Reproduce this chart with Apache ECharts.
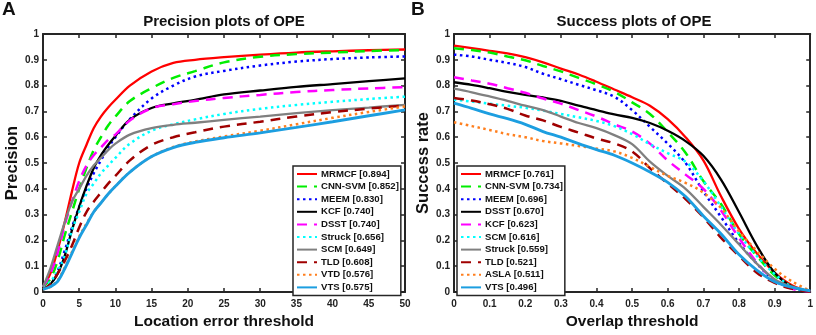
<!DOCTYPE html>
<html>
<head>
<meta charset="utf-8">
<script src="https://cdn.jsdelivr.net/npm/echarts@6/dist/echarts.min.js"></script>
<style>
  html, body { margin: 0; padding: 0; background: #fff; }
  #chart { width: 816px; height: 335px; }
</style>
</head>
<body>
<div id="chart"></div>
<script>
// ---- data: precision plot (location error threshold, px) ----
const precX = [0, 1, 2, 3, 4, 5, 6, 7, 8, 9, 10, 12, 15, 18, 21, 25, 30, 35, 40, 45, 50]
const precNames = ['MRMCF [0.894]', 'CNN-SVM [0.852]', 'MEEM [0.830]', 'KCF [0.740]', 'DSST [0.740]',
  'Struck [0.656]', 'SCM [0.649]', 'TLD [0.608]', 'VTD [0.576]', 'VTS [0.575]']
const precMRMCF = [0.02, 0.07, 0.16, 0.27, 0.39, 0.5, 0.57, 0.635, 0.68, 0.715, 0.745, 0.8, 0.855, 0.888, 0.9, 0.91, 0.92, 0.928, 0.933, 0.937, 0.94]
const precCNNSVM = [0.02, 0.05, 0.12, 0.22, 0.31, 0.4, 0.48, 0.55, 0.6, 0.645, 0.68, 0.74, 0.79, 0.83, 0.856, 0.89, 0.912, 0.922, 0.928, 0.934, 0.938]
const precMEEM = [0.02, 0.03, 0.08, 0.16, 0.25, 0.33, 0.4, 0.46, 0.51, 0.56, 0.6, 0.67, 0.75, 0.8, 0.835, 0.857, 0.878, 0.893, 0.903, 0.909, 0.913]
const precKCF = [0.01, 0.03, 0.07, 0.14, 0.24, 0.33, 0.41, 0.48, 0.53, 0.57, 0.605, 0.668, 0.713, 0.731, 0.745, 0.766, 0.781, 0.795, 0.806, 0.817, 0.828]
const precDSST = [0.02, 0.07, 0.15, 0.26, 0.35, 0.43, 0.49, 0.53, 0.56, 0.59, 0.61, 0.665, 0.712, 0.728, 0.74, 0.752, 0.764, 0.775, 0.783, 0.789, 0.794]
const precStruck = [0.02, 0.04, 0.08, 0.14, 0.24, 0.31, 0.38, 0.42, 0.46, 0.49, 0.52, 0.575, 0.625, 0.65, 0.669, 0.69, 0.71, 0.725, 0.737, 0.748, 0.757]
const precSCM = [0.02, 0.09, 0.18, 0.27, 0.35, 0.4, 0.45, 0.49, 0.52, 0.55, 0.575, 0.61, 0.635, 0.648, 0.656, 0.667, 0.68, 0.693, 0.705, 0.715, 0.725]
const precTLD = [0.01, 0.03, 0.07, 0.12, 0.18, 0.25, 0.31, 0.35, 0.385, 0.42, 0.45, 0.51, 0.57, 0.6, 0.619, 0.641, 0.66, 0.68, 0.697, 0.711, 0.723]
const precVTD = [0.01, 0.02, 0.045, 0.095, 0.155, 0.215, 0.265, 0.31, 0.345, 0.38, 0.41, 0.465, 0.525, 0.562, 0.583, 0.603, 0.625, 0.65, 0.675, 0.698, 0.719]
const precVTS = [0.01, 0.02, 0.04, 0.09, 0.15, 0.21, 0.26, 0.31, 0.345, 0.38, 0.41, 0.465, 0.525, 0.56, 0.58, 0.598, 0.617, 0.638, 0.66, 0.683, 0.706]

// ---- data: success plot (overlap threshold) ----
const succX = [0, 0.05, 0.1, 0.15, 0.2, 0.25, 0.3, 0.35, 0.4, 0.45, 0.5, 0.55, 0.6, 0.65, 0.7, 0.75, 0.8, 0.85, 0.9, 0.95, 1]
const succNames = ['MRMCF [0.761]', 'CNN-SVM [0.734]', 'MEEM [0.696]', 'DSST [0.670]', 'KCF [0.623]',
  'SCM [0.616]', 'Struck [0.559]', 'TLD [0.521]', 'ASLA [0.511]', 'VTS [0.496]']
const succMRMCF = [0.955, 0.945, 0.935, 0.925, 0.91, 0.89, 0.866, 0.843, 0.815, 0.785, 0.755, 0.722, 0.67, 0.6, 0.51, 0.37, 0.245, 0.15, 0.075, 0.025, 0.002]
const succCNNSVM = [0.945, 0.938, 0.928, 0.913, 0.898, 0.876, 0.855, 0.83, 0.805, 0.776, 0.735, 0.69, 0.62, 0.54, 0.43, 0.34, 0.225, 0.14, 0.065, 0.02, 0.002]
const succMEEM = [0.92, 0.913, 0.9, 0.888, 0.872, 0.846, 0.825, 0.803, 0.782, 0.757, 0.705, 0.64, 0.575, 0.5, 0.39, 0.29, 0.19, 0.11, 0.045, 0.015, 0.002]
const succDSST = [0.813, 0.803, 0.79, 0.776, 0.764, 0.754, 0.741, 0.722, 0.705, 0.688, 0.675, 0.655, 0.625, 0.585, 0.528, 0.435, 0.31, 0.18, 0.075, 0.02, 0.003]
const succKCF = [0.832, 0.82, 0.807, 0.79, 0.772, 0.75, 0.73, 0.705, 0.68, 0.65, 0.622, 0.575, 0.51, 0.455, 0.4, 0.315, 0.21, 0.115, 0.045, 0.012, 0.002]
const succSCM = [0.745, 0.738, 0.73, 0.722, 0.714, 0.703, 0.69, 0.677, 0.663, 0.643, 0.612, 0.573, 0.538, 0.505, 0.43, 0.33, 0.225, 0.14, 0.07, 0.02, 0.002]
const succStruck = [0.788, 0.774, 0.758, 0.741, 0.722, 0.705, 0.68, 0.655, 0.635, 0.608, 0.573, 0.505, 0.45, 0.4, 0.33, 0.26, 0.185, 0.11, 0.05, 0.02, 0.002]
const succTLD = [0.752, 0.742, 0.728, 0.71, 0.684, 0.665, 0.64, 0.618, 0.595, 0.576, 0.545, 0.48, 0.42, 0.36, 0.29, 0.21, 0.14, 0.075, 0.035, 0.012, 0.001]
const succASLA = [0.658, 0.643, 0.628, 0.612, 0.6, 0.585, 0.576, 0.566, 0.556, 0.545, 0.52, 0.485, 0.45, 0.423, 0.385, 0.325, 0.235, 0.16, 0.09, 0.04, 0.005]
const succVTS = [0.732, 0.712, 0.69, 0.672, 0.65, 0.622, 0.6, 0.575, 0.552, 0.53, 0.5, 0.465, 0.425, 0.37, 0.295, 0.225, 0.145, 0.085, 0.04, 0.018, 0.005]

const precSeries = [precMRMCF, precCNNSVM, precMEEM, precKCF, precDSST, precStruck, precSCM, precTLD, precVTD, precVTS]
const succSeries = [succMRMCF, succCNNSVM, succMEEM, succDSST, succKCF, succSCM, succStruck, succTLD, succASLA, succVTS]

// style per legend rank (same in both panels)
const colors = ['#ff0000', '#00ee00', '#0000ff', '#000000', '#ff00ff', '#00ffff', '#808080', '#a00000', '#ff7f1e', '#1c9ee0']
const dash = [10, 7]
const dot = [2.5, 3.5]
const lineTypes = ['solid', dash, dot, 'solid', dash, dot, 'solid', dash, dot, 'solid']
const lineWidths = [2.3, 2.5, 2.5, 2.3, 2.5, 2.5, 2.3, 2.5, 2.5, 2.9]

const font = "'Liberation Sans', Arial, Helvetica, sans-serif"
const ink = '#262626'

function xAxes(g, max, interval, name) {
  const base = {
    gridIndex: g, type: 'value', min: 0, max, interval,
    axisLine: { show: true, onZero: false, lineStyle: { color: ink, width: 2 } },
    axisTick: { show: true, inside: true, length: 4, lineStyle: { color: ink, width: 1.5 } },
    splitLine: { show: false },
  }
  return [
    {
      ...base, position: 'bottom', name, nameLocation: 'middle', nameGap: 22,
      nameTextStyle: { fontSize: 15.5, fontWeight: 'bold', color: '#111', fontFamily: font },
      axisLabel: { fontSize: 10, fontWeight: 'bold', color: '#222', margin: 7, fontFamily: font },
    },
    { ...base, position: 'top', axisLabel: { show: false } },
  ]
}

function yAxes(g, name) {
  const base = {
    gridIndex: g, type: 'value', min: 0, max: 1, interval: 0.1,
    axisLine: { show: true, onZero: false, lineStyle: { color: ink, width: 2 } },
    axisTick: { show: true, inside: true, length: 4, lineStyle: { color: ink, width: 1.5 } },
    splitLine: { show: false },
  }
  return [
    {
      ...base, position: 'left', name, nameLocation: 'middle', nameGap: 13,
      nameTextStyle: { fontSize: 16.5, fontWeight: 'bold', color: '#111', fontFamily: font },
      axisLabel: { fontSize: 10, fontWeight: 'bold', color: '#222', margin: 4, fontFamily: font },
    },
    { ...base, position: 'right', axisLabel: { show: false } },
  ]
}

function lines(names, xs, ys, g) {
  return names.map((name, i) => ({
    name,
    type: 'line',
    xAxisIndex: g * 2,
    yAxisIndex: g * 2,
    data: xs.map((x, k) => [x, ys[i][k]]),
    smooth: 0.35,
    symbol: 'none',
    animation: false,
    lineStyle: { color: colors[i], width: lineWidths[i], type: lineTypes[i], cap: 'butt' },
    itemStyle: { color: colors[i] },
  }))
}

function legend(names, left) {
  return {
    data: names, left, top: 166, orient: 'vertical',
    itemWidth: 20, itemHeight: 10, itemGap: 2.6,
    padding: [3, 2, 3, 3],
    borderColor: ink, borderWidth: 1.5, backgroundColor: '#fff',
    // line-only icons: hide the marker the line legend adds
    itemStyle: { color: 'rgba(0,0,0,0)', borderWidth: 0, opacity: 0 },
    textStyle: { fontSize: 9.6, fontWeight: 'bold', color: '#111', fontFamily: font, padding: [0, 0, 0, -1] },
    selectedMode: false,
  }
}

const chart = echarts.init(document.getElementById('chart'), null, { renderer: 'canvas' })
chart.setOption({
  animation: false,
  textStyle: { fontFamily: font },
  title: [
    { text: 'A', left: 2, top: 0, padding: 0, textStyle: { fontSize: 19, fontWeight: 'bold', color: '#111', fontFamily: font } },
    { text: 'B', left: 411, top: 0, padding: 0, textStyle: { fontSize: 19, fontWeight: 'bold', color: '#111', fontFamily: font } },
    { text: 'Precision plots of OPE', left: 224, textAlign: 'center', top: 14, padding: 0, textStyle: { fontSize: 15, fontWeight: 'bold', color: '#111', fontFamily: font } },
    { text: 'Success plots of OPE', left: 634, textAlign: 'center', top: 14, padding: 0, textStyle: { fontSize: 15, fontWeight: 'bold', color: '#111', fontFamily: font } },
  ],
  grid: [
    { left: 43, top: 34, width: 362, height: 266 },
    { left: 454, top: 34, width: 359, height: 266 },
  ],
  xAxis: [...xAxes(0, 50, 5, 'Location error threshold'), ...xAxes(1, 1, 0.1, 'Overlap threshold')],
  yAxis: [...yAxes(0, 'Precision'), ...yAxes(1, 'Success rate')],
  legend: [legend(precNames, 293), legend(succNames, 457)],
  series: [...lines(precNames, precX, precSeries, 0), ...lines(succNames, succX, succSeries, 1)],
})
</script>
</body>
</html>
